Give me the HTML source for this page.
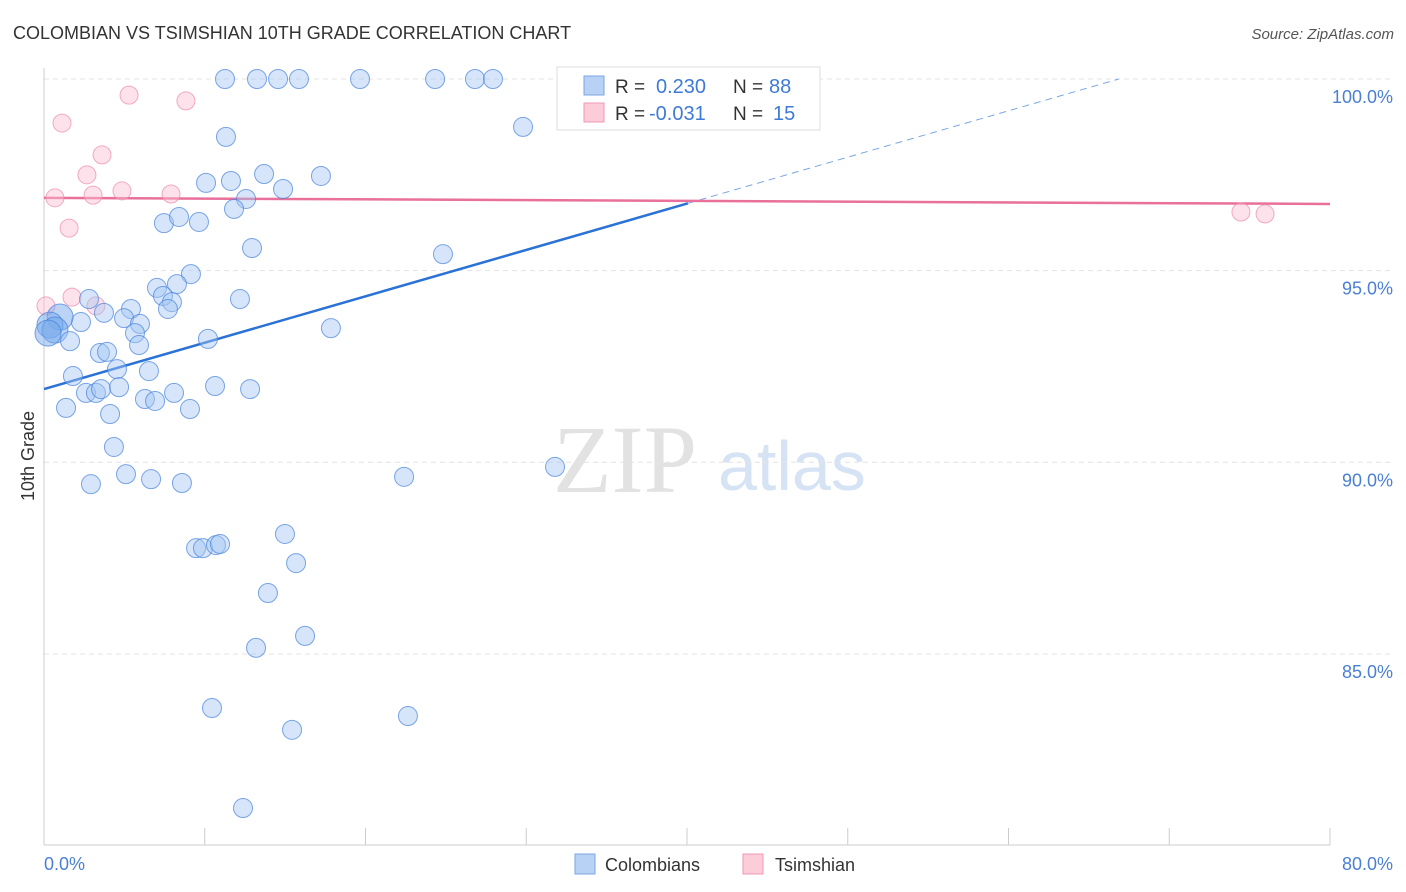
<!DOCTYPE html>
<html><head><meta charset="utf-8"><style>
body{margin:0;background:#fff;font-family:"Liberation Sans",sans-serif;}
svg{display:block}
</style></head><body>
<svg id="chart" width="1406" height="892" xmlns="http://www.w3.org/2000/svg">
<text x="13" y="39" font-size="18" fill="#333">COLOMBIAN VS TSIMSHIAN 10TH GRADE CORRELATION CHART</text>
<text x="1394" y="39" font-size="15" fill="#555" text-anchor="end" font-style="italic">Source: ZipAtlas.com</text>
<g>
<text x="553" y="492" font-size="96" font-family="Liberation Serif,serif" fill="#e2e2e2">ZIP</text>
<text x="718" y="490" font-size="70" fill="#d6e3f5">atlas</text>
</g>
<g id="grid"></g>
<g id="axes"></g>
<g id="trends"></g>
<g id="points"></g>
<text transform="translate(34,456) rotate(-90)" font-size="18" fill="#333" text-anchor="middle">10th Grade</text>
<text x="44" y="870" font-size="18" fill="#4a7fd4">0.0%</text>
<text x="1393" y="870" font-size="18" fill="#4a7fd4" text-anchor="end">80.0%</text>
<g>
<rect x="557" y="67" width="263" height="63" fill="#fff" stroke="#ddd"/>
<rect x="584" y="76" width="20" height="19" fill="#b8d2f5" stroke="#7aa6e3"/>
<rect x="584" y="103" width="20" height="19" fill="#fcccd9" stroke="#ef9ab4"/>
<text x="615" y="93" font-size="19" fill="#333">R =</text>
<text x="656" y="93" font-size="20" fill="#3f7ad6">0.230</text>
<text x="733" y="93" font-size="19" fill="#333">N =</text>
<text x="769" y="93" font-size="20" fill="#3f7ad6">88</text>
<text x="615" y="120" font-size="19" fill="#333">R =</text>
<text x="649" y="120" font-size="20" fill="#3f7ad6">-0.031</text>
<text x="733" y="120" font-size="19" fill="#333">N =</text>
<text x="773" y="120" font-size="20" fill="#3f7ad6">15</text>
</g>
<g>
<rect x="575" y="854" width="20" height="20" fill="#b8d2f5" stroke="#7aa6e3"/>
<text x="605" y="871" font-size="18" fill="#333">Colombians</text>
<rect x="743" y="854" width="20" height="20" fill="#fcccd9" stroke="#ef9ab4"/>
<text x="775" y="871" font-size="18" fill="#333">Tsimshian</text>
</g>
</svg>
<script>
const yTicks=[100,95,90,85];
const yTickLabels=["100.0%","95.0%","90.0%","85.0%"];
const blueX=[11.26,13.25,14.56,15.86,19.66,24.33,26.81,27.93,32.66,39.32,11.32,29.80,10.08,11.63,13.69,17.23,14.87,12.57,11.82,7.46,8.40,9.64,12.94,24.82,9.14,8.27,7.03,7.40,7.96,7.71,12.19,2.80,5.41,3.73,4.98,5.97,2.30,1.00,0.37,0.68,0.25,1.62,5.66,5.91,10.20,17.85,3.48,3.92,4.54,6.53,1.80,2.61,3.23,3.55,4.67,6.28,6.91,8.09,10.64,12.82,1.37,4.11,9.08,4.35,31.79,5.10,6.66,8.58,22.40,2.92,9.46,9.89,10.70,10.95,14.99,15.68,13.93,16.24,13.19,10.45,22.64,15.43,12.38];
const blueY=[100,100,100,100,100,100,100,100,100,100,98.49,98.75,97.29,97.34,97.52,97.47,97.13,96.87,96.61,96.24,96.40,96.27,95.59,95.43,94.91,94.65,94.55,94.34,94.18,94.00,94.26,94.26,94.00,93.90,93.76,93.61,93.66,93.79,93.58,93.45,93.37,93.16,93.37,93.06,93.22,93.50,92.85,92.88,92.43,92.38,92.25,91.81,91.81,91.91,91.96,91.65,91.60,91.81,91.99,91.91,91.42,91.26,91.39,90.40,89.88,89.69,89.56,89.46,89.62,89.43,87.76,87.76,87.84,87.87,88.13,87.37,86.59,85.47,85.16,83.59,83.38,83.02,80.98];
const pinkX=[0.12,0.68,1.12,1.56,1.74,2.67,3.05,3.23,3.61,4.85,5.29,7.90,8.83,74.46,75.96];
const pinkY=[94.08,96.90,98.85,96.11,94.31,97.50,96.97,94.08,98.02,97.08,99.58,97.00,99.43,96.53,96.48];
const blueTrend=[91.91,0.121];
const pinkTrend=[96.90,-0.002];
const NS="http://www.w3.org/2000/svg";
const sx=v=>44+v*16.075;
const sy=v=>79+(100-v)*38.33;
function mk(tag,attrs,parent){const e=document.createElementNS(NS,tag);for(const k in attrs)e.setAttribute(k,attrs[k]);parent.appendChild(e);return e;}
const grid=document.getElementById('grid'),axes=document.getElementById('axes'),tr=document.getElementById('trends'),pts=document.getElementById('points');
yTicks.forEach((t,i)=>{
 const l=mk('line',{x1:44,x2:1393,y1:sy(t),y2:sy(t),stroke:'#e3e3e3','stroke-dasharray':'5,4'},grid);
 
 
 const tx=mk('text',{x:1393,y:sy(t)+24,'font-size':18,fill:'#4a7fd4','text-anchor':'end'},grid);
 tx.textContent=yTickLabels[i];
 
 
});
const ya=mk('line',{x1:44,x2:44,y1:68,y2:845,stroke:'#ccc'},axes);


const xa=mk('line',{x1:44,x2:1330,y1:845,y2:845,stroke:'#ccc'},axes);


for(let i=0;i<=8;i++){const t=mk('line',{x1:sx(i*10),x2:sx(i*10),y1:828,y2:845,stroke:'#ccc'},axes);
 
 }
const xEnd=(100-blueTrend[0])/blueTrend[1];
const b1=mk('line',{x1:sx(0),y1:sy(blueTrend[0]),x2:sx(40.06),y2:sy(blueTrend[0]+blueTrend[1]*40.06),stroke:'#2a72d6','stroke-width':2.5},tr);


const b2=mk('line',{x1:sx(40.06),y1:sy(blueTrend[0]+blueTrend[1]*40.06),x2:sx(xEnd),y2:sy(100),stroke:'#7aa6e3','stroke-width':1,'stroke-dasharray':'7,5'},tr);


const p1=mk('line',{x1:sx(0),y1:sy(pinkTrend[0]),x2:sx(80),y2:sy(pinkTrend[0]+pinkTrend[1]*80),stroke:'#e8709a','stroke-width':2.5},tr);


pinkX.forEach((x,i)=>{const c=mk('circle',{cx:sx(x),cy:sy(pinkY[i]),r:9,fill:'rgba(250,190,210,0.45)',stroke:'rgba(236,140,170,0.7)','stroke-width':1},pts);
 
 });
blueX.forEach((x,i)=>{const big=x<1.2&&blueY[i]>93&&blueY[i]<94;const c=mk('circle',{cx:sx(x),cy:sy(blueY[i]),r:big?13:9.5,fill:big?'rgba(120,170,235,0.5)':'rgba(165,198,242,0.45)',stroke:'rgba(70,130,220,0.7)','stroke-width':1},pts);
 
 });
</script>
</body></html>
